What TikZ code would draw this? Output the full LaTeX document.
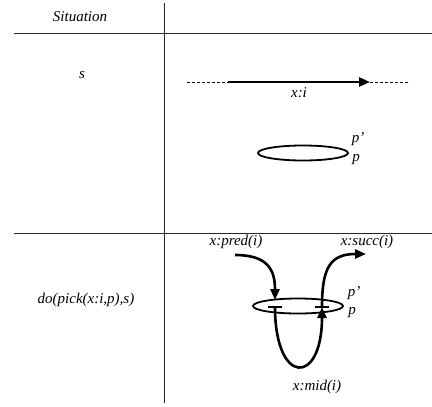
\documentclass[tikz,border=0pt]{standalone}
\usepackage{fontspec}
\setmainfont{Liberation Serif}
\usetikzlibrary{positioning, arrows.meta, shapes.geometric, calc}

\begin{document}
\begin{tikzpicture}[x=1pt, y=-1pt,
    lbl/.style={font=\itshape\fontsize{15}{17}\selectfont, inner sep=1pt},
    rule/.style={line width=1pt, draw=black!85},
    arr/.style={-{Triangle[length=11pt, width=9pt]}, line width=2.6pt},
    dots/.style={densely dashed, line width=0.7pt},
    ring/.style={draw, ellipse, line width=1.8pt, minimum width=90pt, minimum height=15pt, inner sep=0pt},
    tick/.style={line width=1.6pt}
]
\useasboundingbox (0,0) rectangle (432,407);

% table frame
\draw[rule] (164,3) -- (164,403);
\draw[rule] (14,33) -- (432,33);
\draw[rule] (14,233) -- (432,233);

\node[lbl] (head) at (80,17) {Situation};
\node[lbl] (sit0) at (82,75) {s};
\node[lbl] (sit1) at (86,300) {do(pick(x:i,p),s)};

% situation s
\coordinate (xl) at (187,82);
\coordinate (xa) at (228,82);
\coordinate (xb) at (370,82);
\coordinate (xr) at (410,82);
\draw[dots] (xl) -- (xa);
\draw[arr] (xa) -- node[lbl, below=3pt] (xi) {x:i} (xb);
\draw[dots] (xb) -- (xr);

\node[ring] (pp0) at (303,153) {};
\node[lbl] (pa0) at (358,139) {p'};
\node[lbl] (pb0) at (356,160) {p};

% situation after pick
\node[ring] (pp1) at (298,306) {};
\node[lbl] (pa1) at (354,293) {p'};
\node[lbl] (pb1) at (352,313) {p};

\node[lbl] (pred) at (236,242) {x:pred(i)};
\node[lbl] (succ) at (367,242) {x:succ(i)};
\node[lbl] (mid) at (317,387) {x:mid(i)};

\coordinate (in) at (235,255);
\coordinate (cutl) at (275,307);
\coordinate (cutr) at (322,307);
\coordinate (out) at (366,254);

\draw[tick] ($(cutl)+(-7,0)$) -- ($(cutl)+(7,0)$);
\draw[tick] ($(cutr)+(-7,0)$) -- ($(cutr)+(7,0)$);

\draw[arr] (in) .. controls (268,255) and (275,270) .. (275,300);
\draw[arr] (cutl) .. controls (275,386) and (322,386) .. (cutr);
\draw[arr] (cutr) .. controls (322,268) and (330,254) .. (out);

\end{tikzpicture}
\end{document}
